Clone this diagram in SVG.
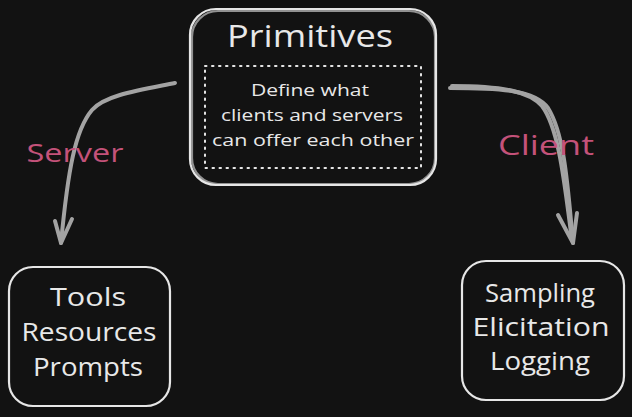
<svg xmlns="http://www.w3.org/2000/svg" width="632" height="417" viewBox="0 0 632 417">
<style>
.box{fill:none;stroke:#e6e6e6;stroke-width:2.2}
.t{font-family:"Open Sans","Liberation Sans",sans-serif;fill:#e8e8e8;text-anchor:middle}
.lbl{font-family:"Open Sans","Liberation Sans",sans-serif;fill:#c4527a;text-anchor:middle}
.conn{fill:none;stroke:#a3a3a3;stroke-width:4;stroke-linecap:round;stroke-linejoin:round}
</style>
<rect width="632" height="417" fill="#121212"/>
<g id="primitives">
<rect class="box" x="190" y="9" width="246" height="176" rx="26"/>
<rect class="box" x="192" y="11" width="243" height="173" rx="26" stroke-width="1" opacity="0.6"/>
<text class="t" x="310" y="47" font-size="31" textLength="166" lengthAdjust="spacingAndGlyphs">Primitives</text>
<rect x="205" y="66" width="216" height="102" fill="none" stroke="#e6e6e6" stroke-width="2" stroke-dasharray="1.5 5.5" stroke-linecap="round"/>
<text class="t" x="310" y="96" font-size="16" textLength="118" lengthAdjust="spacingAndGlyphs">Define what</text>
<text class="t" x="312" y="121" font-size="16" textLength="182" lengthAdjust="spacingAndGlyphs">clients and servers</text>
<text class="t" x="313" y="146" font-size="16" textLength="202" lengthAdjust="spacingAndGlyphs">can offer each other</text>
</g>
<g id="server-node">
<rect class="box" x="9" y="267" width="161" height="139" rx="24"/>
<text class="t" x="88" y="306" font-size="25" textLength="76" lengthAdjust="spacingAndGlyphs">Tools</text>
<text class="t" x="89" y="341" font-size="25" textLength="135" lengthAdjust="spacingAndGlyphs">Resources</text>
<text class="t" x="88" y="376" font-size="25" textLength="110" lengthAdjust="spacingAndGlyphs">Prompts</text>
</g>
<g id="client-node">
<rect class="box" x="462" y="261" width="162" height="139" rx="24" stroke-width="2.6"/>
<text class="t" x="540" y="302" font-size="25" textLength="110" lengthAdjust="spacingAndGlyphs">Sampling</text>
<text class="t" x="541" y="336" font-size="25" textLength="137" lengthAdjust="spacingAndGlyphs">Elicitation</text>
<text class="t" x="540" y="370" font-size="25" textLength="100" lengthAdjust="spacingAndGlyphs">Logging</text>
</g>
<g id="connectors">
<path class="conn" d="M175 83 C140 90 105 95 92 110 C75 130 68 170 61 243"/>
<path class="conn" d="M55 221 L61 243 L72 219"/>
<path class="conn" d="M450 88 C500 88 535 90 548 108 C565 135 568 190 573 243"/>
<path class="conn" d="M452 86 C505 86 530 92 542 106 C560 130 565 190 572 240" stroke-width="2.5"/>
<path class="conn" d="M558 215 L573 243 L577 213"/>
<text class="lbl" x="75" y="162" font-size="26" textLength="97" lengthAdjust="spacingAndGlyphs">Server</text>
<text class="lbl" x="546" y="155" font-size="28" textLength="96" lengthAdjust="spacingAndGlyphs">Client</text>
</g>
</svg>
